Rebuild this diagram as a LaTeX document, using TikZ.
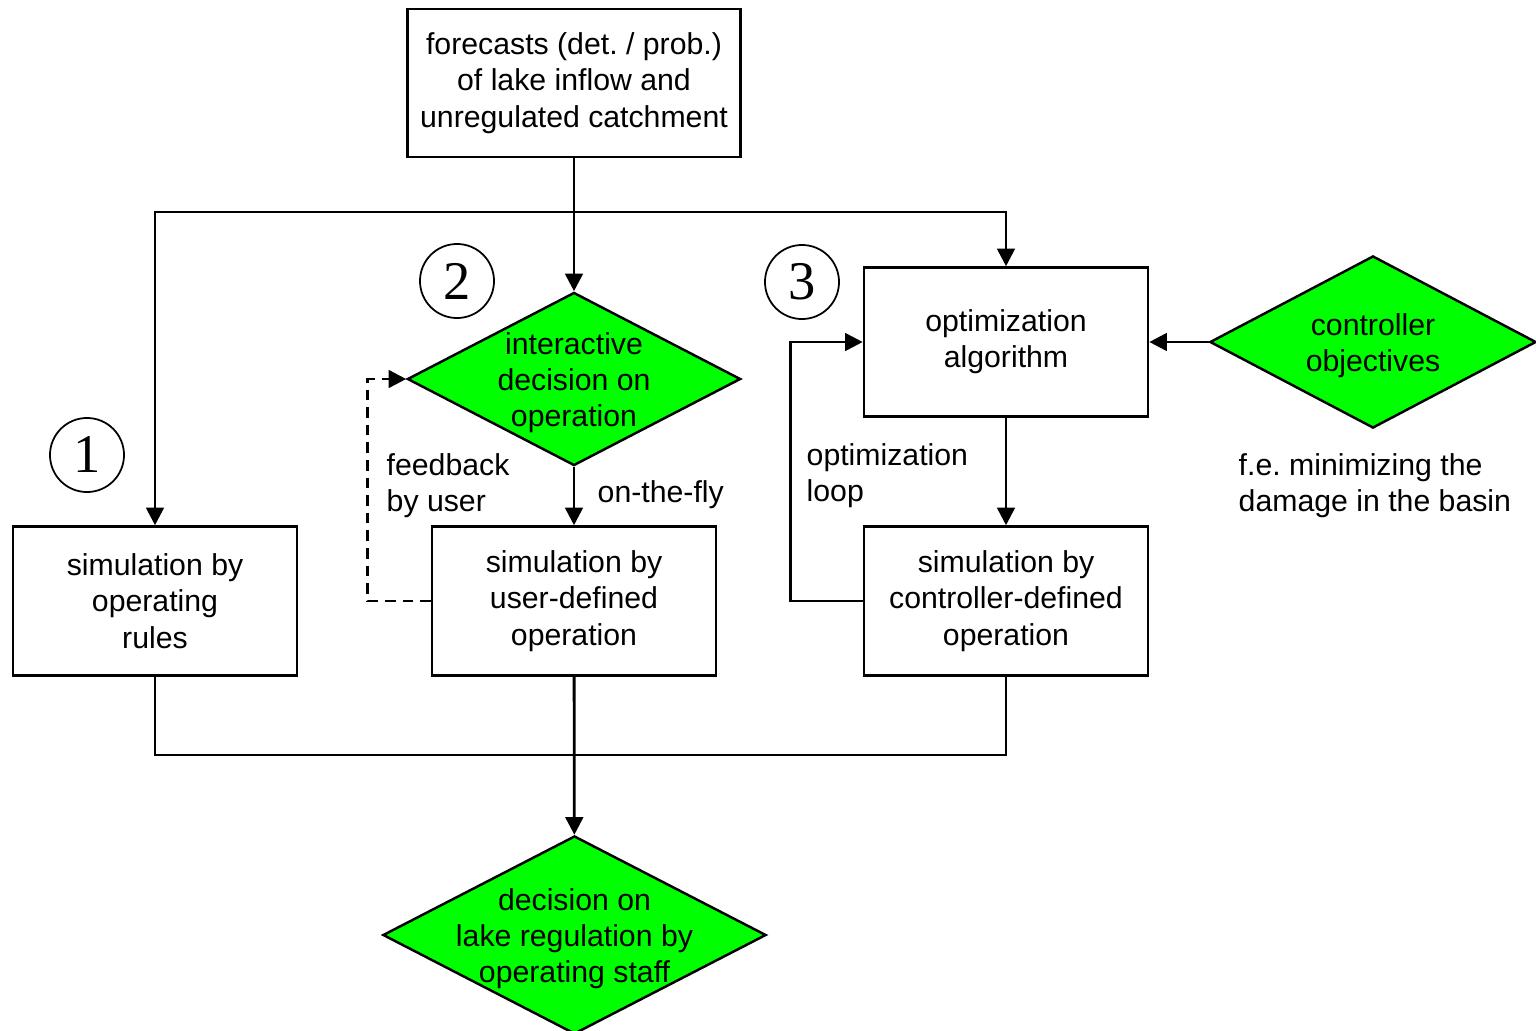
\documentclass[tikz,border=0pt]{standalone}
\usepackage{fontspec}
\setmainfont{Liberation Sans}
\newfontfamily\numfont{Liberation Serif}
\usetikzlibrary{shapes.geometric,arrows.meta}
\definecolor{decgreen}{RGB}{0,255,0}
\frenchspacing

\begin{document}
\begin{tikzpicture}[x=0.01cm,y=-0.01cm,
  every node/.style={font=\fontsize{8.6}{10.3}\selectfont},
  box/.style={draw,line width=0.7pt,minimum width=2.84cm,minimum height=1.49cm,align=center,inner sep=0pt},
  decision/.style={diamond,draw,fill=decgreen,line width=0.7pt,inner sep=0pt},
  nummark/.style={circle,draw,line width=0.5pt,minimum size=0.74cm,inner sep=0pt,font=\numfont\fontsize{15.5}{15.5}\selectfont},
  txt/.style={align=left,anchor=west,inner sep=0pt},
  line/.style={line width=0.8pt},
  arr/.style={line width=0.8pt,-{Triangle[length=5pt,width=5pt]}}]
\useasboundingbox (0,0) rectangle (1536,1030);

\node[box,minimum width=3.33cm,minimum height=1.48cm] (fc) at (574,83) {forecasts (det. / prob.)\\of lake inflow and\\unregulated catchment};
\node[decision,minimum width=3.33cm,minimum height=1.73cm,label={[align=center,yshift=-1pt]center:interactive\\decision on\\operation}] (dec) at (574,379) {};
\node[box] (opt) at (1006,342) {optimization\\algorithm};
\node[decision,minimum width=3.26cm,minimum height=1.72cm,label={[align=center,yshift=-1pt]center:controller\\objectives}] (obj) at (1373,342) {};
\node[box] (sim1) at (155,601) {simulation by\\operating\\rules};
\node[box] (sim2) at (574,601) {simulation by\\user-defined\\operation};
\node[box] (sim3) at (1006,601) {simulation by\\controller-defined\\operation};
\node[decision,minimum width=3.83cm,minimum height=1.98cm,label={[align=center,yshift=-1pt]center:decision on\\lake regulation by\\operating staff}] (staff) at (574.5,935) {};

\node[nummark] (n1) at (87,455) {1};
\node[nummark] (n2) at (457,281) {2};
\node[nummark] (n3) at (802,282) {3};

\node[txt] (fb) at (386,486) {feedback\\by user};
\node[txt] (fly) at (597,495) {on-the-fly};
\node[txt] (loop) at (806,476) {optimization\\loop};
\node[txt] (note) at (1238,486) {f.e. minimizing the\\damage in the basin};

\coordinate (jl) at (155,212);
\coordinate (jr) at (1006,212);
\coordinate (jb) at (574,755);

\draw[arr] (fc) -- (dec);
\draw[arr] (jr) -| (sim1);
\draw[arr] (jl) -| (opt);
\draw[arr] (dec) -- (sim2);
\draw[arr,dash pattern=on 3pt off 2pt] (sim2.west) -- ++(-63,0) |- (dec.west);
\draw[arr] (opt) -- (sim3);
\draw[arr] (sim3.west) -- ++(-72,0) |- (opt.west);
\draw[arr] (obj) -- (opt);
\draw[line] (sim1.south) |- (jb) -| (sim3.south);
\draw[arr] (sim2) -- (staff);
\end{tikzpicture}
\end{document}
